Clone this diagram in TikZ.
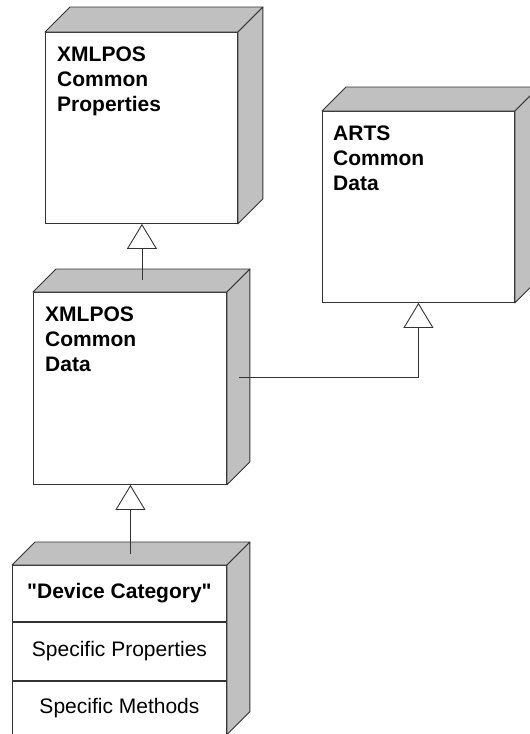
\documentclass[tikz,border=0pt]{standalone}
\usepackage{fontspec}
\setmainfont{Liberation Sans}[Ligatures=TeXOff]
\usetikzlibrary{arrows.meta,positioning,calc}

\definecolor{sidegray}{RGB}{192,192,192}

% top and right faces of a node box: top node, bottom node, depth
\newcommand{\depthfaces}[3]{%
  \filldraw[side] (#1.north west) -- ++(#3,-#3) -- ($(#1.north east)+(#3,-#3)$) -- (#1.north east) -- cycle;
  \filldraw[side] (#1.north east) -- ++(#3,-#3) -- ($(#2.south east)+(#3,-#3)$) -- (#2.south east) -- cycle;
}

\begin{document}
\begin{tikzpicture}[x=1pt,y=-1pt,
  front/.style={draw=black!80,fill=white,line width=0.9pt,inner sep=0pt,anchor=north west},
  side/.style={draw=black!80,fill=sidegray,line width=0.9pt,line join=round},
  title/.style={font=\fontsize{21}{25}\selectfont\bfseries,align=left,inner sep=0pt,anchor=north west},
  cell/.style={draw=black!80,fill=white,line width=0.9pt,minimum width=214pt,inner sep=0pt,font=\fontsize{21}{25}\selectfont},
  gen/.style={draw=black!80,line width=0.9pt,-{Triangle[open,length=25pt,width=30pt]}}]

  \clip (0,0) rectangle (530,734);

  % XMLPOS common properties
  \node[front,minimum width=192pt,minimum height=191pt] (props) at (45,32) {};
  \depthfaces{props}{props}{25}
  \node[title] (props-t) at ($(props.north west)+(12,15)$) {XMLPOS\\Common\\Properties};

  % ARTS common data
  \node[front,minimum width=192pt,minimum height=191pt] (arts) at (322,111) {};
  \depthfaces{arts}{arts}{24}
  \node[title] (arts-t) at ($(arts.north west)+(11,15)$) {ARTS\\Common\\Data};

  % XMLPOS common data
  \node[front,minimum width=193pt,minimum height=192pt] (data) at (33,292) {};
  \depthfaces{data}{data}{23}
  \node[title] (data-t) at ($(data.north west)+(12,15)$) {XMLPOS\\Common\\Data};

  % device category
  \node[cell,minimum height=56pt,anchor=north west,font=\fontsize{21}{25}\selectfont\bfseries] (cat-name) at (12,565) {"Device Category"};
  \node[cell,minimum height=58pt,below=0pt of cat-name] (cat-props) {Specific Properties};
  \node[cell,minimum height=53pt,below=0pt of cat-props] (cat-meth) {Specific Methods};
  \depthfaces{cat-name}{cat-meth}{23}

  % generalisations
  \coordinate (d-top) at ($(data.north)+(12,-12)$);
  \draw[gen] (d-top) -- (d-top |- props.south);
  \coordinate (d-side) at ($(data.east)+(12,-11)$);
  \draw[gen] (d-side) -| (arts.south);
  \coordinate (c-top) at ($(cat-name.north)+(11,-11)$);
  \draw[gen] (c-top) -- (c-top |- data.south);
\end{tikzpicture}
\end{document}
